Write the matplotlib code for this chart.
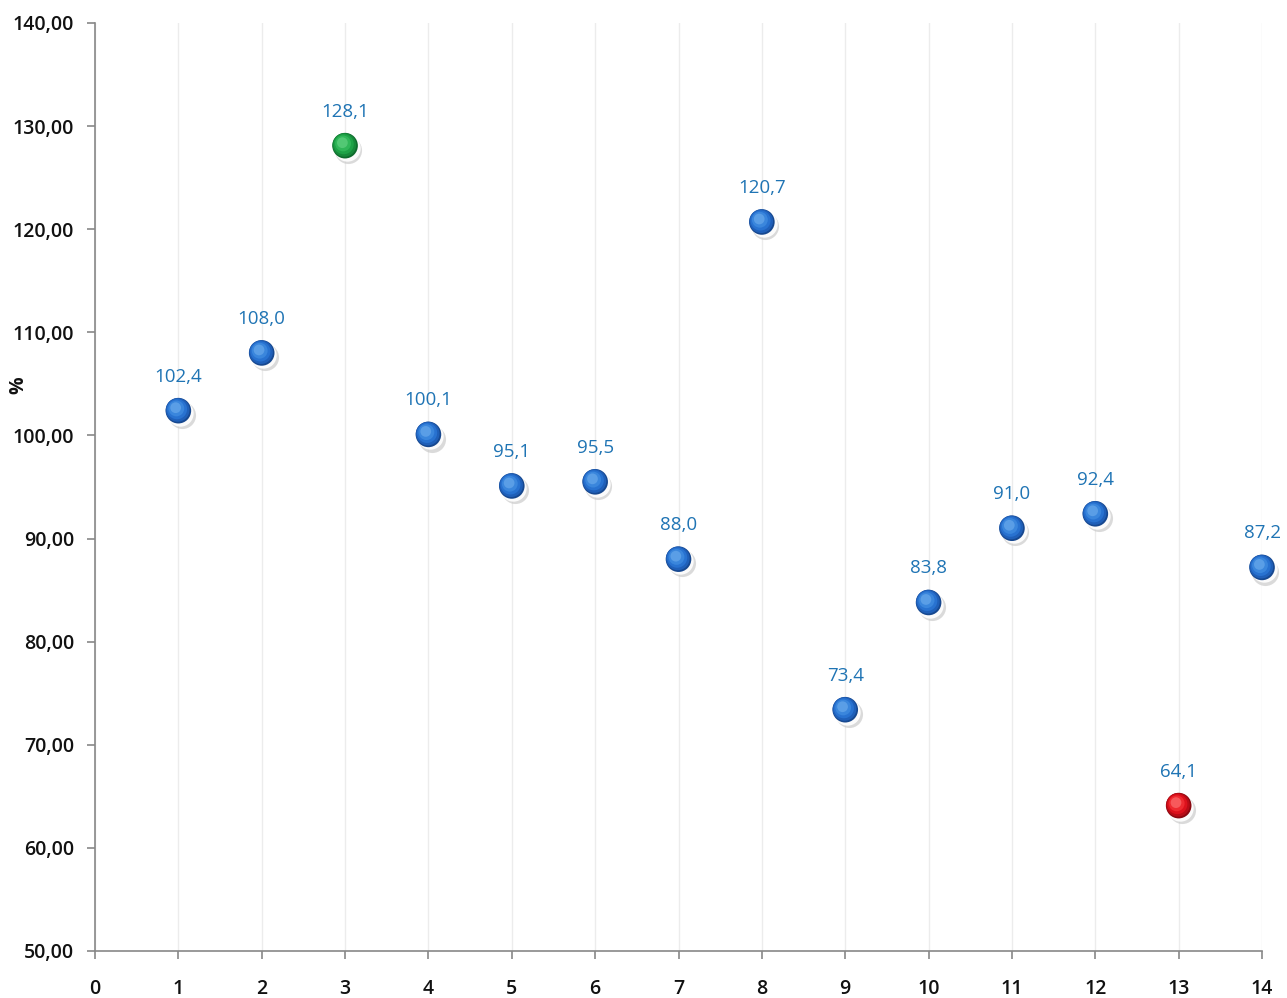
import matplotlib
matplotlib.use("Agg")
import matplotlib.pyplot as plt
import numpy as np

x_vals = [1, 2, 3, 4, 5, 6, 7, 8, 9, 10, 11, 12, 13, 14]
y_vals = [102.4, 108.0, 128.1, 100.1, 95.1, 95.5, 88.0, 120.7, 73.4, 83.8, 91.0, 92.4, 64.1, 87.2]
point_kind = ["b"] * 14
point_kind[2] = "g"
point_kind[12] = "r"
x_ticks = list(range(0, 15))
y_ticks = [50, 60, 70, 80, 90, 100, 110, 120, 130, 140]

# gradient palettes (dark edge -> light centre)
palettes = {
    "b": ["#17488f", "#1f5fb8", "#2872d0", "#3a86dc", "#5a9ee6"],
    "g": ["#0e6a2c", "#16893a", "#1ea247", "#30b658", "#52c874"],
    "r": ["#8a0810", "#b80c16", "#dc111c", "#ee2a30", "#f75a5c"],
}

plt.rcParams['font.family'] = ['Open Sans', 'DejaVu Sans']

fig = plt.figure(figsize=(12.87, 9.98), dpi=100)
ax = fig.add_axes([0.0738, 0.0471, 0.9068, 0.9299])
ax.set_xlim(0, 14)
ax.set_ylim(50, 140)

ax.set_xticks(x_ticks)
ax.set_yticks(y_ticks)
ax.set_yticklabels([f"{v:.2f}".replace(".", ",") for v in y_ticks])
ax.set_xticklabels([str(v) for v in x_ticks])
ax.tick_params(axis='both', labelsize=14, colors='#888888', labelcolor='#111111', length=6, width=1.2)
ax.tick_params(axis='x', pad=14)
ax.tick_params(axis='y', pad=9)
for lab in ax.get_xticklabels() + ax.get_yticklabels():
    lab.set_fontweight('semibold')

ax.grid(axis='x', color='#ececec', linewidth=1)
ax.set_axisbelow(True)
for s in ['top', 'right']:
    ax.spines[s].set_visible(False)
for s in ['left', 'bottom']:
    ax.spines[s].set_color('#888888')
    ax.spines[s].set_linewidth(1.2)

fig.text(18 / 1287, 1 - 385 / 998, '%', rotation=90, fontsize=14, fontweight='bold',
         color='#111111', ha='center', va='center')

xs = np.array(x_vals, dtype=float)
ys = np.array(y_vals, dtype=float)
# shadow
ax.scatter(xs + 0.04, ys - 0.4, s=380, color='#bdbdbd', alpha=0.55, zorder=3, clip_on=False, linewidths=0)
ax.scatter(xs + 0.02, ys - 0.2, s=360, color='white', alpha=0.9, zorder=3.5, clip_on=False, linewidths=0)
sizes = [340, 290, 210, 130, 60]
offs = [0.0, 0.008, 0.016, 0.024, 0.032]
for layer in range(5):
    cols = [palettes[k][layer] for k in point_kind]
    ax.scatter(xs - offs[layer], ys + offs[layer] * 9, s=sizes[layer], c=cols, linewidths=0,
               zorder=4 + layer * 0.1, clip_on=False)

for xv, yv in zip(x_vals, y_vals):
    ax.annotate(f"{yv:.1f}".replace(".", ","), (xv, yv), xytext=(0, 18), textcoords='offset points',
                ha='center', va='bottom', fontsize=13.5, color='#1f74b4', zorder=6, annotation_clip=False)

fig.savefig('out.png', dpi=100)
